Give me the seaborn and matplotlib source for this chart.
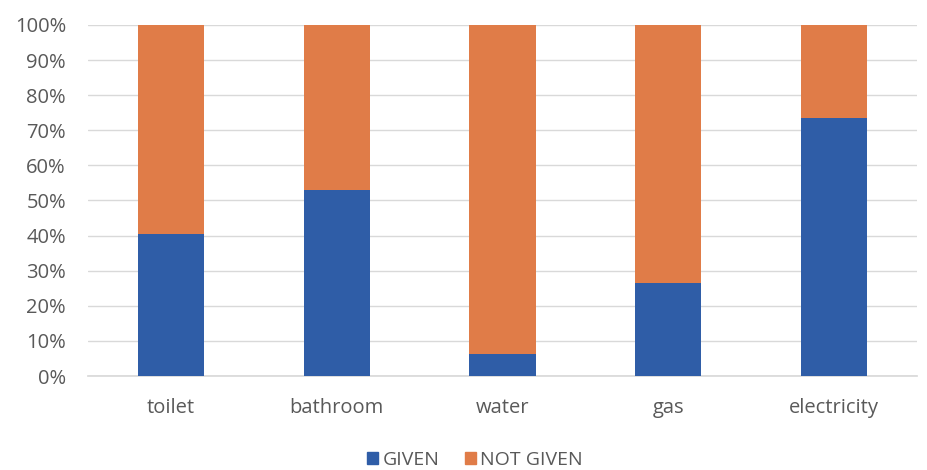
import pandas as pd
import matplotlib.pyplot as plt
import seaborn as sns
from matplotlib.patches import Patch
from matplotlib.ticker import PercentFormatter

# ── DATA ──────────────────────────────────────────────────────────────────────
categories = ['toilet', 'bathroom', 'water', 'gas', 'electricity']
given = [40.5, 53.0, 6.3, 26.5, 73.5]
not_given = [100 - g for g in given]

df = pd.DataFrame({'category': categories, 'given': given, 'not_given': not_given})
df['total'] = df['given'] + df['not_given']

blue = '#2F5DA7'
orange = '#E07C48'

sns.set_theme(style='white')
plt.rcParams['font.family'] = ['Open Sans', 'DejaVu Sans']

fig = plt.figure(figsize=(9.28, 4.70), dpi=100)
ax = fig.add_axes([0.095, 0.2, 0.893, 0.747])

# stacked bars: full bar in orange, GIVEN part drawn over it in blue
sns.barplot(data=df, x='category', y='total', color=orange, width=0.4,
            saturation=1, linewidth=0, ax=ax, zorder=2)
sns.barplot(data=df, x='category', y='given', color=blue, width=0.4,
            saturation=1, linewidth=0, ax=ax, zorder=3)

ax.set_xlim(-0.5, 4.5)
ax.set_ylim(0, 100)
ax.set_yticks(range(0, 101, 10))
ax.yaxis.set_major_formatter(PercentFormatter(decimals=0))
ax.grid(axis='y', color='#D9D9D9', linewidth=1, zorder=0)
ax.set_axisbelow(True)
ax.set_xlabel('')
ax.set_ylabel('')
sns.despine(ax=ax, left=True, top=True, right=True)
ax.spines['bottom'].set_color('#D9D9D9')
ax.tick_params(axis='both', length=0, labelsize=14.5, colors='#595959')
ax.tick_params(axis='x', pad=16)
ax.tick_params(axis='y', pad=16)

handles = [Patch(color=blue, label='GIVEN'), Patch(color=orange, label='NOT GIVEN')]
fig.legend(handles=handles, loc='center', bbox_to_anchor=(0.512, 0.022),
           ncol=2, frameon=False, fontsize=14, handlelength=0.55,
           handleheight=0.55, handletextpad=0.25, columnspacing=1.3,
           labelcolor='#595959', borderpad=0)

fig.savefig('out.png', dpi=100)
